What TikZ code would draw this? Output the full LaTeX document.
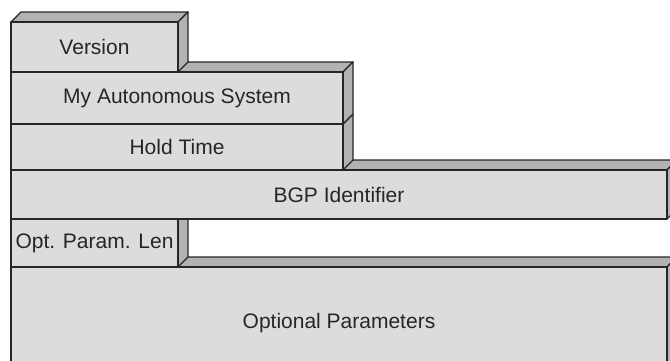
\documentclass[tikz,border=0pt]{standalone}
\usepackage{fontspec}
\setmainfont{Liberation Sans}
\usepackage{tikz}

\begin{document}
\begin{tikzpicture}[x=1pt, y=-1pt]
    % --- GLOBAL DEFINITIONS ---
    \def\d{10} % depth of the blocks
    \def\xl{11} % left edge of all blocks

    % Custom colors
    \definecolor{facefront}{RGB}{220, 220, 222}
    \definecolor{faceshade}{RGB}{178, 178, 180}
    \definecolor{edgecol}{RGB}{38, 38, 38}

    \tikzset{
        frontface/.style={fill=facefront, draw=edgecol, line width=1.2pt, line join=round},
        shadeface/.style={fill=faceshade, draw=edgecol, line width=1.2pt, line join=round},
        fieldtext/.style={font=\fontsize{21}{25}\selectfont, text=black!85, inner sep=0pt}
    }

    \useasboundingbox (0,0) rectangle (670,360);
    \clip (0,0) rectangle (670,360);

    % OPTIONAL PARAMETERS (bottom block)
    \draw[shadeface] (\xl,267) -- (\xl+\d,267-\d) -- (667+\d,267-\d) -- (667,267) -- cycle;
    \draw[shadeface] (667,267) -- (667+\d,267-\d) -- (667+\d,390) -- (667,390) -- cycle;
    \draw[frontface] (\xl,267) rectangle (667,380);
    \node[fieldtext] (optpar) at ({(\xl+667)/2}, 323) {Optional Parameters};

    % OPT. PARAM. LEN
    \draw[shadeface] (178,219) -- (178+\d,219-\d) -- (178+\d,267-\d) -- (178,267) -- cycle;
    \draw[frontface] (\xl,219) rectangle (178,267);
    \node[fieldtext] (optlen) at ({(\xl+178)/2}, 243) {Opt. Param. Len};

    % BGP IDENTIFIER
    \draw[shadeface] (\xl,170) -- (\xl+\d,170-\d) -- (667+\d,170-\d) -- (667,170) -- cycle;
    \draw[shadeface] (667,170) -- (667+\d,170-\d) -- (667+\d,219-\d) -- (667,219) -- cycle;
    \draw[frontface] (\xl,170) rectangle (667,219);
    \node[fieldtext] (bgpid) at ({(\xl+667)/2}, 195) {BGP Identifier};

    % HOLD TIME
    \draw[shadeface] (343,124) -- (343+\d,124-\d) -- (343+\d,170-\d) -- (343,170) -- cycle;
    \draw[frontface] (\xl,124) rectangle (343,170);
    \node[fieldtext] (hold) at ({(\xl+343)/2}, 147) {Hold Time};

    % MY AUTONOMOUS SYSTEM
    \draw[shadeface] (\xl,72) -- (\xl+\d,72-\d) -- (343+\d,72-\d) -- (343,72) -- cycle;
    \draw[shadeface] (343,72) -- (343+\d,72-\d) -- (343+\d,124-\d) -- (343,124) -- cycle;
    \draw[frontface] (\xl,72) rectangle (343,124);
    \node[fieldtext] (myas) at ({(\xl+343)/2}, 98) {My Autonomous System};

    % VERSION (top block)
    \draw[shadeface] (\xl,22) -- (\xl+\d,22-\d) -- (178+\d,22-\d) -- (178,22) -- cycle;
    \draw[shadeface] (178,22) -- (178+\d,22-\d) -- (178+\d,72-\d) -- (178,72) -- cycle;
    \draw[frontface] (\xl,22) rectangle (178,72);
    \node[fieldtext] (version) at ({(\xl+178)/2}, 47) {Version};
\end{tikzpicture}
\end{document}
